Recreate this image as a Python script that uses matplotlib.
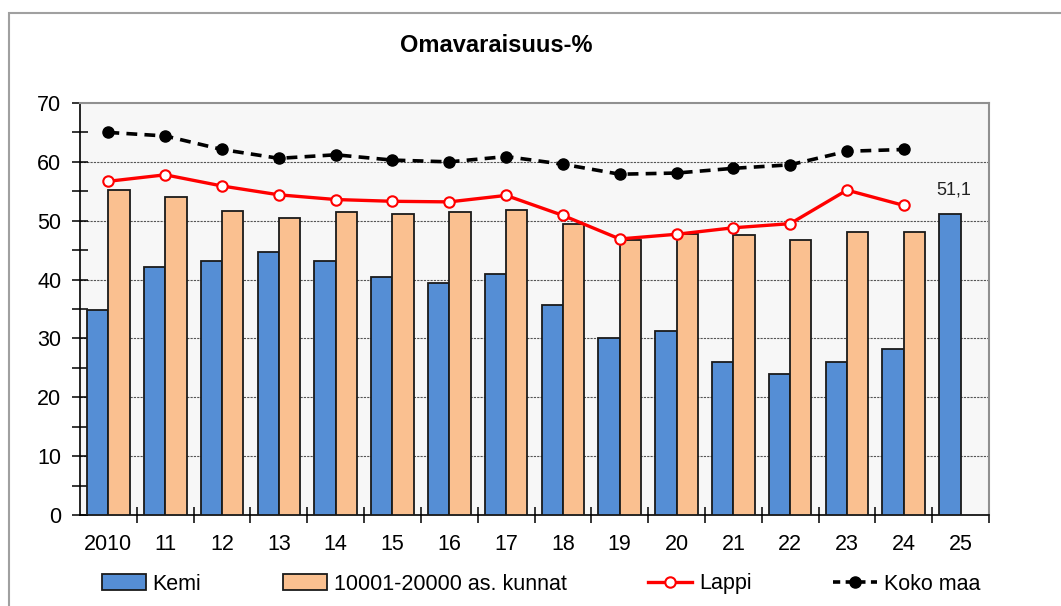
import matplotlib
matplotlib.use("Agg")
import matplotlib.pyplot as plt
import numpy as np
from matplotlib.patches import Rectangle
from matplotlib.lines import Line2D

plt.rcParams['font.family'] = ['Liberation Sans', 'DejaVu Sans']

years = ["2010", "11", "12", "13", "14", "15", "16", "17", "18", "19",
         "20", "21", "22", "23", "24", "25"]
kemi = [34.9, 42.2, 43.2, 44.6, 43.1, 40.4, 39.5, 40.9, 35.7, 30.1,
        31.3, 26.0, 24.0, 26.0, 28.2, 51.1]
kunnat = [55.3, 54.0, 51.6, 50.5, 51.5, 51.2, 51.5, 51.8, 49.4, 46.8,
          47.7, 47.6, 46.7, 48.1, 48.1, np.nan]
lappi = [56.7, 57.8, 55.9, 54.4, 53.6, 53.3, 53.2, 54.3, 50.9, 46.9,
         47.7, 48.8, 49.5, 55.2, 52.6]
koko_maa = [65.0, 64.4, 62.1, 60.6, 61.2, 60.3, 60.0, 60.9, 59.6, 57.9,
            58.1, 58.9, 59.5, 61.8, 62.1]
label_2025 = "51,1"

W, H = 1061, 606
fig = plt.figure(figsize=(W / 100, H / 100), dpi=100)
fig.patch.set_facecolor("white")

# figure border (top and left visible)
fig.add_artist(Rectangle((9 / W, -0.1), 1.2, 1 - 13 / H + 0.1, transform=fig.transFigure,
                         fill=False, edgecolor="#a0a0a0", linewidth=1.5))

ax = fig.add_axes([80 / W, 1 - 515 / H, (989 - 80) / W, (515 - 103) / H])
ax.set_facecolor("#f7f7f7")

x = np.arange(len(years))
bw = 0.375
ax.bar(x - bw / 2, kemi, width=bw, color="#558ed5", edgecolor="#1a1a1a", linewidth=1.3,
       zorder=3, label="Kemi")
ax.bar(x + bw / 2, kunnat, width=bw, color="#fac090", edgecolor="#1a1a1a", linewidth=1.3,
       zorder=3, label="10001-20000 as. kunnat")

xl = np.arange(len(lappi))
ax.plot(xl, lappi, color="#ff0000", linewidth=2.4, marker="o", markersize=7.5,
        markerfacecolor="white", markeredgecolor="#ff0000", markeredgewidth=1.5, zorder=4)
ax.plot(xl, koko_maa, color="black", linewidth=2.6, linestyle=(0, (3.0, 2.0)), marker="o",
        markersize=8, markerfacecolor="black", markeredgecolor="black", zorder=4)

ax.text(x[-1] - bw / 2 + 0.06, kemi[-1] + 4.1, label_2025, ha="center", va="center",
        fontsize=13, color="#222222", zorder=5)

ax.set_xlim(-0.5, len(years) - 0.5)
ax.set_ylim(0, 70)
ax.set_yticks(np.arange(0, 71, 10))
ax.set_yticks(np.arange(5, 70, 10), minor=True)
ax.set_xticks(x)
ax.set_xticklabels(years)
ax.set_xticks(np.arange(0.5, len(years) - 0.4, 1), minor=True)

ax.tick_params(axis="x", which="major", length=0, pad=14, labelsize=15.5)
ax.tick_params(axis="x", which="minor", length=12, direction="inout", width=1.1)
ax.tick_params(axis="y", which="both", length=11, direction="inout", width=1.1,
               pad=8, labelsize=15.5)

for yv in range(10, 70, 10):
    ax.axhline(yv, color="#555555", linestyle=(0, (2, 1)), linewidth=0.8, zorder=1)

ax.spines["left"].set_color("black")
ax.spines["bottom"].set_color("black")
ax.spines["left"].set_linewidth(1.2)
ax.spines["bottom"].set_linewidth(1.2)
ax.spines["top"].set_color("#909090")
ax.spines["right"].set_color("#909090")
ax.spines["top"].set_linewidth(1.5)
ax.spines["right"].set_linewidth(1.5)

fig.text(496 / W, 1 - 46 / H, "Omavaraisuus-%", ha="center", va="center",
         fontsize=17, fontweight="bold")

handles = [
    Rectangle((0, 0), 1, 1, facecolor="#558ed5", edgecolor="#1a1a1a", linewidth=1.3),
    Rectangle((0, 0), 1, 1, facecolor="#fac090", edgecolor="#1a1a1a", linewidth=1.3),
    Line2D([], [], color="#ff0000", linewidth=2.4, marker="o", markersize=7.5,
           markerfacecolor="white", markeredgecolor="#ff0000", markeredgewidth=1.5),
    Line2D([], [], color="black", linewidth=2.6, linestyle=(0, (2.0, 1.5)), marker="o",
           markersize=8, markerfacecolor="black"),
]
labels = ["Kemi", "10001-20000 as. kunnat", "Lappi", "Koko maa"]
fig.legend(handles, labels, loc="center", bbox_to_anchor=(541 / W, 1 - 584 / H), ncol=4,
           frameon=False, fontsize=15.5, handlelength=2.05, handleheight=0.8,
           handletextpad=0.3, columnspacing=3.8)

fig.savefig("out.png", dpi=100)
